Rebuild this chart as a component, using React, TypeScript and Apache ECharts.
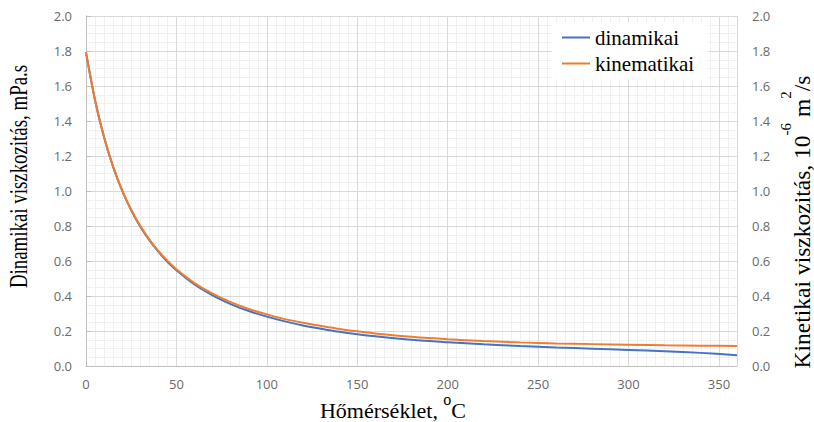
import React, { useEffect, useRef } from "react";
import * as echarts from "echarts";

const temperatures = [0, 5, 10, 15, 20, 25, 30, 35, 40, 45, 50, 60, 70, 80, 90, 100, 110, 120, 130, 140, 150, 160, 180, 200, 220, 240, 260, 280, 300, 320, 340, 360];
const dinamikai = [1.792, 1.519, 1.307, 1.138, 1.002, 0.89, 0.797, 0.719, 0.653, 0.596, 0.547, 0.466, 0.404, 0.354, 0.314, 0.282, 0.255, 0.232, 0.213, 0.196, 0.182, 0.17, 0.15, 0.136, 0.124, 0.114, 0.106, 0.099, 0.092, 0.084, 0.075, 0.062];
const kinematikai = [1.792, 1.519, 1.307, 1.139, 1.004, 0.893, 0.801, 0.724, 0.658, 0.602, 0.553, 0.474, 0.413, 0.365, 0.326, 0.295, 0.268, 0.247, 0.229, 0.212, 0.198, 0.186, 0.167, 0.153, 0.143, 0.135, 0.129, 0.125, 0.121, 0.118, 0.116, 0.114];
const seriesNames = ["dinamikai", "kinematikai"];
const xTitle = "Hőmérséklet, ";
const leftTitle = "Dinamikai viszkozitás, mPa.s";

const SERIF = "'Liberation Serif', 'Times New Roman', serif";
const SANS = "'Open Sans', sans-serif";
const LABEL_COLOR = "#6a6a6a";
const MAJOR = "#d9d9d9";
const MINOR = "#eef0f2";

export default function App() {
  const ref = useRef<HTMLDivElement>(null);
  useEffect(() => {
    if (!ref.current) return;
    const chart = echarts.init(ref.current, undefined, { renderer: "svg" });
    const pairs = (vals: number[]) => temperatures.map((t, i) => [t, vals[i]]);
    const fmt = (v: number) => v.toFixed(1);
    chart.setOption({
      animation: false,
      backgroundColor: "#fff",
      grid: { left: 86, right: 77, top: 16, bottom: 56, containLabel: false },
      legend: {
        orient: "vertical",
        left: 552,
        top: 22,
        padding: [5, 14, 5, 10],
        backgroundColor: "#fff",
        itemWidth: 28,
        itemHeight: 2,
        itemGap: 5,
        itemTextGap: 11,
        icon: "rect",
        textStyle: { fontFamily: SERIF, fontSize: 21, color: "#000", lineHeight: 20 },
        data: seriesNames,
      },
      xAxis: [
        {
          type: "value",
          min: 0,
          max: 360,
          interval: 50,
          z: 1,
          axisLine: { show: true, lineStyle: { color: "#bfbfbf", width: 1 } },
          axisTick: { show: false },
          axisLabel: { color: LABEL_COLOR, fontFamily: SANS, fontSize: 13, margin: 11, showMaxLabel: false },
          splitLine: { show: true, lineStyle: { color: MAJOR, width: 1 } },
        },
        {
          type: "value",
          min: 0,
          max: 360,
          interval: 5,
          z: 0,
          position: "bottom",
          axisLine: { show: false },
          axisTick: { show: false },
          axisLabel: { show: false },
          splitLine: { show: true, lineStyle: { color: MINOR, width: 1 } },
        },
      ],
      yAxis: [
        {
          type: "value",
          min: 0,
          max: 2,
          interval: 0.2,
          z: 1,
          position: "left",
          axisLine: { show: true, lineStyle: { color: "#bfbfbf", width: 1 } },
          axisTick: { show: false },
          axisLabel: { color: LABEL_COLOR, fontFamily: SANS, fontSize: 13, margin: 14, formatter: fmt },
          splitLine: { show: true, lineStyle: { color: MAJOR, width: 1 } },
          minorTick: { show: false, splitNumber: 4 },
          minorSplitLine: { show: true, lineStyle: { color: MINOR, width: 1 } },
        },
        {
          type: "value",
          min: 0,
          max: 2,
          interval: 0.2,
          z: 1,
          position: "right",
          axisLine: { show: true, lineStyle: { color: "#bfbfbf", width: 1 } },
          axisTick: { show: true, inside: false, length: 5, lineStyle: { color: "#bfbfbf" } },
          axisLabel: { color: LABEL_COLOR, fontFamily: SANS, fontSize: 13, margin: 15, formatter: fmt },
          splitLine: { show: false },
        },
      ],
      series: [
        {
          name: seriesNames[0],
          type: "line",
          xAxisIndex: 0,
          yAxisIndex: 0,
          data: pairs(dinamikai),
          smooth: 0.3,
          showSymbol: false,
          symbol: "none",
          z: 3,
          itemStyle: { color: "#4472C4" },
          lineStyle: { color: "#4472C4", width: 2 },
        },
        {
          name: seriesNames[1],
          type: "line",
          xAxisIndex: 0,
          yAxisIndex: 1,
          data: pairs(kinematikai),
          smooth: 0.3,
          showSymbol: false,
          symbol: "none",
          z: 4,
          itemStyle: { color: "#ED7D31" },
          lineStyle: { color: "#ED7D31", width: 2 },
        },
      ],
      graphic: [
        {
          type: "text",
          x: 19,
          y: 176.5,
          rotation: Math.PI / 2,
          scaleX: 0.755,
          style: {
            text: leftTitle,
            fontFamily: SERIF,
            fontSize: 25,
            fill: "#000",
            align: "center",
            verticalAlign: "middle",
            textAlign: "center",
            textVerticalAlign: "middle",
          },
        },
        {
          type: "text",
          x: 796,
          y: 222,
          rotation: Math.PI / 2,
          style: {
            text: "{m|Kinetikai viszkozitás, 10}{s|-6}{m| m}{s|2}{m|/s}",
            align: "center",
            verticalAlign: "middle",
            textAlign: "center",
            textVerticalAlign: "middle",
            fill: "#000",
            rich: {
              m: { fontFamily: SERIF, fontSize: 23.5, lineHeight: 36, verticalAlign: "bottom", fill: "#000" },
              s: { fontFamily: SERIF, fontSize: 15, lineHeight: 16, verticalAlign: "top", fill: "#000" },
            },
          },
        },
        {
          type: "text",
          x: 393,
          y: 406.7,
          style: {
            text: "{m|" + xTitle + "}{s|o}{m|C}",
            align: "center",
            verticalAlign: "middle",
            textAlign: "center",
            textVerticalAlign: "middle",
            fill: "#000",
            rich: {
              m: { fontFamily: SERIF, fontSize: 22, lineHeight: 30, verticalAlign: "bottom", fill: "#000" },
              s: { fontFamily: SERIF, fontSize: 16, lineHeight: 16, verticalAlign: "top", fill: "#000" },
            },
          },
        },
      ],
    });
    return () => chart.dispose();
  }, []);
  return (
    <div
      ref={ref}
      style={{ position: "fixed", left: 0, top: 0, width: 814, height: 422, background: "#fff" }}
    />
  );
}
